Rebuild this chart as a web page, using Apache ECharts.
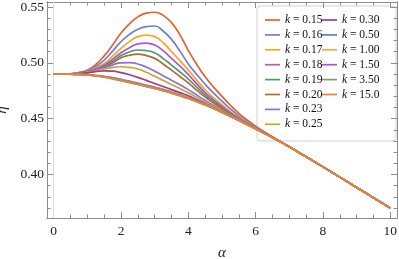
<!DOCTYPE html>
<html>
<head>
<meta charset="utf-8">
<script src="https://cdn.jsdelivr.net/npm/echarts@6/dist/echarts.min.js"></script>
<style>html,body{margin:0;padding:0;background:#fff}#c{width:399px;height:259px}</style>
</head>
<body>
<div id="c"></div>
<script>
// ---- data ----
const alpha = [0,0.25,0.5,0.75,1,1.25,1.5,1.75,2,2.25,2.5,2.75,3,3.25,3.5,3.75,4,4.25,4.5,4.75,5,5.25,5.5,5.75,6,6.25,6.5,6.75,7,7.5,8,8.5,9,9.5,10];
const kLabels = ['0.15','0.16','0.17','0.18','0.19','0.20','0.23','0.25','0.30','0.50','1.00','1.50','3.50','15.0'];
const tail = [.4158,.4068,.3976,.3884,.3792,.3700];   // eta for alpha 7.5 ... 10 (all curves coincide)
const eta_k015 = [.4900,.4900,.4902,.4912,.4935,.4985,.5062,.5160,.5268,.5350,.5412,.5445,.5453,.5425,.5360,.5250,.5110,.4985,.4875,.4782,.4700,.4620,.4548,.4487,.4432,.4383,.4337,.4292,.4248, ...tail];
const eta_k016 = [.4900,.4900,.4902,.4912,.4930,.4968,.5025,.5105,.5190,.5255,.5300,.5325,.5330,.5285,.5210,.5105,.4990,.4895,.4808,.4728,.4657,.4588,.4525,.4470,.4425,.4380,.4336,.4291,.4248, ...tail];
const eta_k017 = [.4900,.4900,.4901,.4910,.4926,.4955,.4995,.5060,.5130,.5190,.5235,.5248,.5235,.5180,.5100,.5020,.4935,.4845,.4759,.4688,.4623,.4563,.4510,.4463,.4420,.4376,.4335,.4291,.4248, ...tail];
const eta_k018 = [.4900,.4900,.4901,.4909,.4923,.4946,.4980,.5033,.5090,.5136,.5170,.5177,.5160,.5110,.5040,.4970,.4895,.4812,.4734,.4668,.4608,.4553,.4503,.4458,.4418,.4375,.4334,.4291,.4248, ...tail];
const eta_k019 = [.4900,.4900,.4901,.4908,.4921,.4940,.4968,.5015,.5065,.5097,.5115,.5110,.5090,.5040,.4980,.4918,.4855,.4782,.4712,.4652,.4597,.4546,.4498,.4455,.4416,.4374,.4334,.4291,.4248, ...tail];
const eta_k020 = [.4900,.4900,.4900,.4907,.4919,.4935,.4960,.5000,.5045,.5068,.5078,.5065,.5040,.4990,.4935,.4878,.4820,.4755,.4693,.4640,.4590,.4541,.4494,.4453,.4414,.4373,.4333,.4291,.4248, ...tail];
const eta_k023 = [.4900,.4900,.4900,.4906,.4917,.4935,.4955,.4982,.5000,.5002,.4990,.4962,.4925,.4885,.4845,.4803,.4760,.4712,.4663,.4619,.4575,.4533,.4490,.4451,.4413,.4372,.4332,.4290,.4248, ...tail];
const eta_k025 = [.4900,.4900,.4900,.4905,.4914,.4930,.4945,.4960,.4965,.4960,.4945,.4915,.4880,.4843,.4805,.4770,.4732,.4690,.4645,.4608,.4570,.4530,.4487,.4450,.4412,.4372,.4332,.4290,.4248, ...tail];
const eta_k030 = [.4900,.4900,.4900,.4904,.4910,.4922,.4928,.4925,.4912,.4893,.4870,.4843,.4815,.4788,.4760,.4733,.4705,.4670,.4632,.4598,.4562,.4524,.4485,.4448,.4411,.4371,.4331,.4290,.4248, ...tail];
const eta_k050 = [.4900,.4900,.4898,.4897,.4895,.4888,.4880,.4867,.4852,.4836,.4819,.4801,.4783,.4762,.4741,.4716,.4690,.4661,.4630,.4597,.4562,.4525,.4487,.4449,.4410,.4371,.4331,.4290,.4248, ...tail];
const eta_k100 = [.4900,.4900,.4898,.4896,.4893,.4885,.4876,.4862,.4846,.4830,.4812,.4794,.4776,.4756,.4735,.4710,.4685,.4656,.4626,.4594,.4559,.4522,.4485,.4447,.4409,.4370,.4330,.4290,.4248, ...tail];
const eta_k150 = [.4900,.4900,.4898,.4896,.4893,.4884,.4874,.4860,.4843,.4827,.4809,.4791,.4773,.4753,.4732,.4708,.4682,.4654,.4624,.4592,.4557,.4521,.4484,.4446,.4408,.4370,.4330,.4290,.4248, ...tail];
const eta_k350 = [.4900,.4900,.4898,.4896,.4892,.4883,.4873,.4858,.4841,.4824,.4807,.4789,.4771,.4751,.4730,.4706,.4681,.4653,.4623,.4591,.4556,.4520,.4483,.4446,.4408,.4370,.4330,.4290,.4248, ...tail];
const eta_k1500 = [.4900,.4900,.4898,.4896,.4892,.4883,.4872,.4857,.4840,.4823,.4806,.4788,.4770,.4750,.4729,.4705,.4680,.4652,.4622,.4590,.4556,.4520,.4483,.4446,.4408,.4370,.4330,.4290,.4248, ...tail];
const allEta = [eta_k015,eta_k016,eta_k017,eta_k018,eta_k019,eta_k020,eta_k023,eta_k025,eta_k030,eta_k050,eta_k100,eta_k150,eta_k350,eta_k1500];
const xMajor = [0,2,4,6,8,10];
const xMinor = [0,0.5,1,1.5,2,2.5,3,3.5,4,4.5,5,5.5,6,6.5,7,7.5,8,8.5,9,9.5,10];
const yMajor = [0.40,0.45,0.50,0.55];
const yMinor = [0.37,0.38,0.39,0.40,0.41,0.42,0.43,0.44,0.45,0.46,0.47,0.48,0.49,0.50,0.51,0.52,0.53,0.54,0.55];
// ---- style ----
const colors = ['#e2622c','#6e80d6','#f6a628','#b556c6','#4c9a7e','#b8682a','#8d6fe0','#c9a52f','#ad3a7c','#4f8abd','#f4aa40','#a75ad3','#7ea163','#ef7f33'];
const frame = '#8c8c8c';
const serif = "'Liberation Serif', 'DejaVu Serif', serif";
const X = {min:-0.2, max:10.2};
const Y = {min:0.361, max:0.5545};

function xAx(pos, ticks, len, labels){
  return {type:'value', position:pos, min:X.min, max:X.max,
    axisLine:{show:true, onZero:false, lineStyle:{color:frame, width:1}},
    axisTick:{show:true, inside:true, length:len, customValues:ticks, lineStyle:{color:frame}},
    axisLabel:{show:labels, customValues:ticks, margin:6, color:'#222', fontFamily:serif, fontSize:13.5},
    splitLine:{show:false}};
}
function yAx(pos, ticks, len, labels){
  return {type:'value', position:pos, min:Y.min, max:Y.max,
    axisLine:{show:true, onZero:false, lineStyle:{color:frame, width:1}},
    axisTick:{show:true, inside:true, length:len, customValues:ticks, lineStyle:{color:frame}},
    axisLabel:{show:labels, customValues:ticks, margin:3, color:'#222', fontFamily:serif, fontSize:13.5,
      formatter:v=>v.toFixed(2)},
    splitLine:{show:false}};
}
const xAxes = [xAx('bottom', xMajor, 6, true), xAx('bottom', xMinor, 3.5, false), xAx('top', xMajor, 6, false), xAx('top', xMinor, 3.5, false)];
xAxes[0].name = 'α'; xAxes[0].nameLocation='middle'; xAxes[0].nameGap = 28;
xAxes[0].nameTextStyle = {fontFamily:serif, fontStyle:'italic', fontSize:15, color:'#222'};
const yAxes = [yAx('left', yMajor, 6, true), yAx('left', yMinor, 3.5, false), yAx('right', yMajor, 6, false), yAx('right', yMinor, 3.5, false)];
yAxes[0].name = 'η'; yAxes[0].nameLocation='middle'; yAxes[0].nameGap = 35; yAxes[0].nameRotate = 90;
yAxes[0].nameTextStyle = {fontFamily:serif, fontStyle:'italic', fontSize:15, color:'#222'};

const series = allEta.map((arr,i)=>({
  name:'k = '+kLabels[i], type:'line', xAxisIndex:0, yAxisIndex:0,
  data: alpha.map((a,j)=>[a, arr[j]]),
  showSymbol:false, symbol:'none', smooth:0.5,
  lineStyle:{width:1.7, color:colors[i]}, itemStyle:{color:colors[i]},
  z: 3 + i, silent:true, animation:false
}));
series[0].markLine = {silent:true, symbol:['none','none'], label:{show:false}, animation:false,
  lineStyle:{color:'#dcdcdc', type:'solid', width:1}, data:[{xAxis:0}], z:1};

const legendText = {fontFamily:serif, fontSize:11.5, color:'#111', lineHeight:14,
  rich:{i:{fontFamily:serif, fontStyle:'italic', fontSize:11.5, color:'#111'}, n:{fontFamily:serif, fontSize:11.5, color:'#111'}}};
const fmt = name => '{i|k}{n|' + name.slice(1) + '}';
const names = kLabels.map(k=>'k = '+k);
const lineIcon = 'path://M0,0L15,0L15,1.7L0,1.7Z';

const chart = echarts.init(document.getElementById('c'), null, {renderer:'canvas'});
chart.setOption({
  animation:false,
  backgroundColor:'#fff',
  grid:{left:47, right:2, top:2, bottom:41, containLabel:false, outerBoundsMode:'none'},
  xAxis:xAxes, yAxis:yAxes,
  graphic:[{type:'rect', shape:{x:257, y:6, width:139, height:135, r:3}, z:0, zlevel:0,
    style:{fill:'rgba(255,255,255,0.85)', stroke:'#cfcfcf', lineWidth:1}}],
  legend:[
    {orient:'vertical', left:265, top:13, padding:0, itemWidth:15, itemHeight:14, itemGap:0.9, icon:lineIcon,
     data:names.slice(0,8), textStyle:legendText, formatter:fmt, selectedMode:false},
    {orient:'vertical', left:322, top:13, padding:0, itemWidth:15, itemHeight:14, itemGap:0.9, icon:lineIcon,
     data:names.slice(8), textStyle:legendText, formatter:fmt, selectedMode:false}
  ],
  series:series
});
</script>
</body>
</html>
